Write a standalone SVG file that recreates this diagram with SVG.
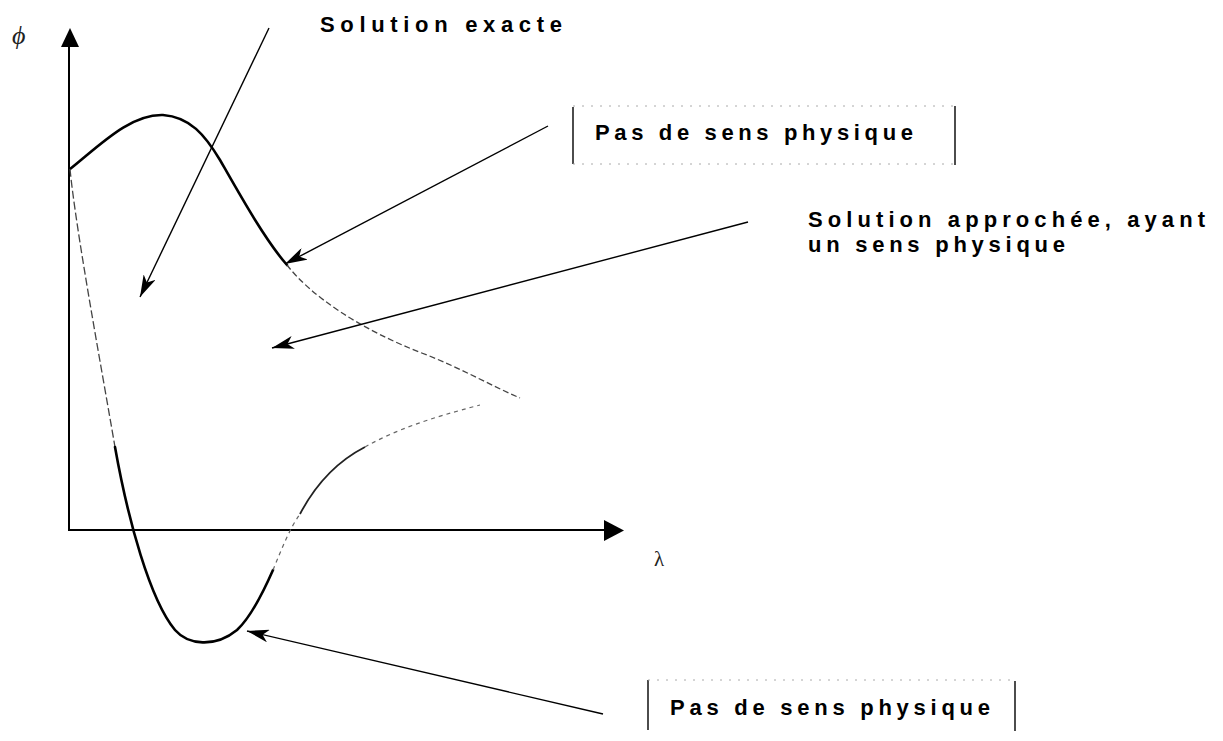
<svg xmlns="http://www.w3.org/2000/svg" width="1223" height="741" viewBox="0 0 1223 741">
<style>
.lbl{font-family:"Liberation Sans",Arial,sans-serif;font-weight:bold;font-size:22px;fill:#000}
.ax{stroke:#000;stroke-width:2;fill:none}
.thick{stroke:#000;stroke-width:2.6;fill:none;stroke-linecap:round}
.thin{stroke:#444;stroke-width:1.3;fill:none}
.dot{stroke:#666;stroke-width:1.2;fill:none;stroke-dasharray:4 4}
.conn{stroke:#000;stroke-width:1.4;fill:none}
.side{stroke:#000;stroke-width:1.4}
.faint{stroke:#aaa;stroke-width:1;stroke-dasharray:2 7}
</style>
<defs>
<marker id="ah" markerUnits="userSpaceOnUse" viewBox="0 0 22 13" refX="22" refY="6.5" markerWidth="22" markerHeight="13" orient="auto">
<path d="M0,0 L22,6.5 L0,13 L6,6.5 Z" fill="#000"/>
</marker>
</defs>
<rect width="1223" height="741" fill="#fff"/>
<g id="axes">
<line class="ax" x1="69" y1="46" x2="69" y2="530"/>
<polygon points="61,47 70,28 79,47" fill="#000"/>
<line class="ax" x1="68" y1="530" x2="605" y2="530"/>
<polygon points="604,520 624,530.5 604,541" fill="#000"/>
<text x="12" y="44" style="font-family:'Liberation Serif',serif;font-style:italic;font-size:26px;fill:#222">ϕ</text>
<text x="654" y="566" style="font-family:'Liberation Serif',serif;font-size:21px;fill:#222">λ</text>
</g>
<g id="curves">
<path class="thick" d="M70,169 C100,145 130,114 163,115 C190,117 205,135 220,160 C240,195 265,240 287,265"/>
<path class="thin" style="stroke-dasharray:6 3" d="M287,265 C310,295 360,330 427,355 C460,368 490,385 520,398"/>
<path class="thin" style="stroke-dasharray:8 3" d="M70,169 C76,230 100,360 115,447"/>
<path class="thick" d="M115,447 C128,520 150,600 175,630 C188,645 215,648 237,630 C250,618 262,595 273,570"/>
<path class="dot" d="M273,570 C282,548 290,528 300,514"/>
<path class="thin" style="stroke-width:1.8;stroke:#222" d="M300,514 C310,495 330,465 365,447"/>
<path class="dot" d="M365,447 C395,430 430,418 480,405"/>
</g>
<g id="connectors">
<line class="conn" x1="269" y1="28" x2="140" y2="297" marker-end="url(#ah)"/>
<line class="conn" x1="548" y1="126" x2="285" y2="264" marker-end="url(#ah)"/>
<line class="conn" x1="748" y1="222" x2="272" y2="348" marker-end="url(#ah)"/>
<line class="conn" x1="603" y1="714" x2="247" y2="631" marker-end="url(#ah)"/>
</g>
<g id="node-exacte">
<text class="lbl" x="320" y="32" textLength="242" lengthAdjust="spacing">Solution exacte</text>
</g>
<g id="node-pas-top">
<line class="side" x1="573" y1="107" x2="573" y2="164"/>
<line class="side" x1="955" y1="106" x2="955" y2="165"/>
<line class="faint" x1="573" y1="106" x2="955" y2="106"/>
<line class="faint" x1="573" y1="164" x2="955" y2="164"/>
<text class="lbl" x="595" y="140" textLength="318" lengthAdjust="spacing">Pas de sens physique</text>
</g>
<g id="node-approchee">
<text class="lbl" x="808" y="227" textLength="397" lengthAdjust="spacing">Solution approchée, ayant</text>
<text class="lbl" x="808" y="252" textLength="257" lengthAdjust="spacing">un sens physique</text>
</g>
<g id="node-pas-bottom">
<line class="side" x1="648" y1="680" x2="648" y2="730"/>
<line class="side" x1="1015" y1="681" x2="1015" y2="731"/>
<line class="faint" x1="648" y1="680" x2="1015" y2="680"/>
<text class="lbl" x="670" y="715" textLength="320" lengthAdjust="spacing">Pas de sens physique</text>
</g>
</svg>
